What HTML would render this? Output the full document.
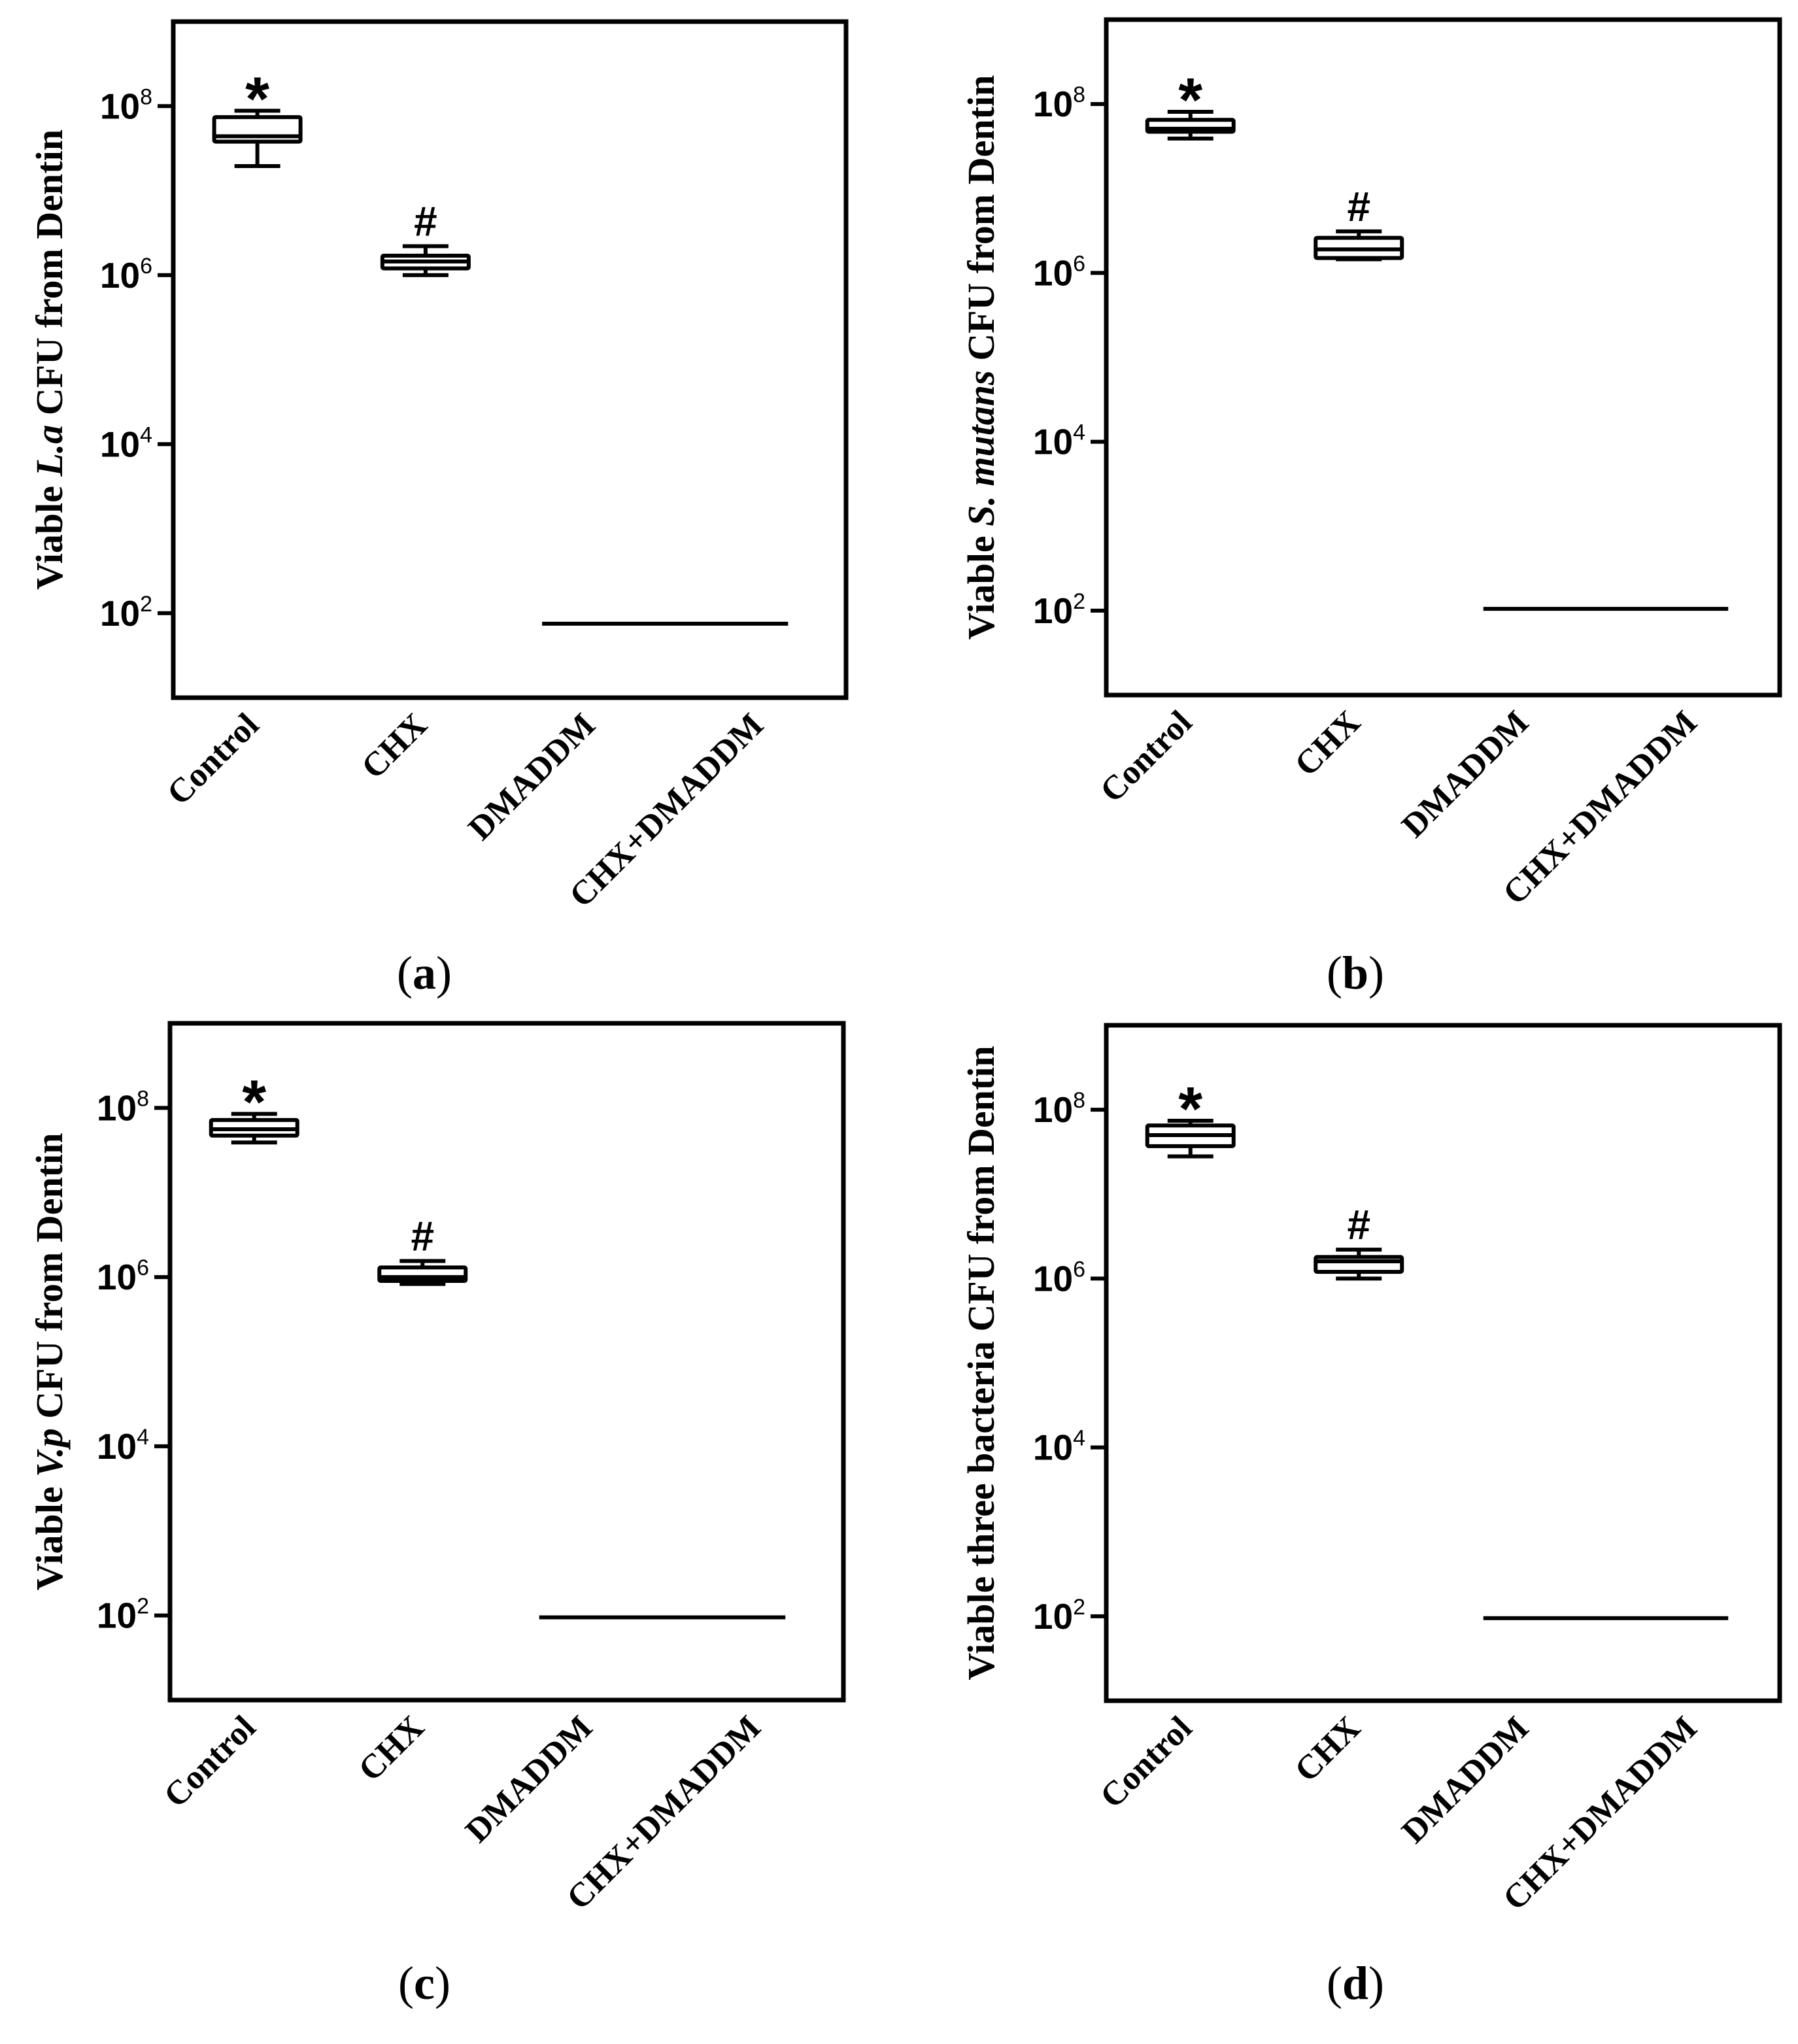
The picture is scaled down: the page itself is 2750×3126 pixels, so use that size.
<!DOCTYPE html>
<html><head><meta charset="utf-8"><style>
html,body{margin:0;padding:0;background:#fff;}
svg{display:block;}
</style></head><body>
<svg id="fig" xmlns="http://www.w3.org/2000/svg" width="2750" height="3126" viewBox="0 0 2750 3126">
<rect x="0" y="0" width="2750" height="3126" fill="#fff"/>
</svg>
<script>
// ---- data ----
const categories = ["Control", "CHX", "DMADDM", "CHX+DMADDM"];
const tickExponents = [2, 4, 6, 8];
// box stats in CFU: [min, q1, median, q3, max] for Control and CHX
const aControl = [1.95e7, 3.8e7, 4.4e7, 7.4e7, 8.8e7];
const aCHX = [1.0e6, 1.2e6, 1.45e6, 1.7e6, 2.2e6];
const bControl = [3.9e7, 4.7e7, 5.1e7, 6.5e7, 8.1e7];
const bCHX = [1.45e6, 1.5e6, 1.9e6, 2.6e6, 3.1e6];
const cControl = [3.9e7, 4.7e7, 5.6e7, 7.2e7, 8.5e7];
const cCHX = [0.83e6, 0.9e6, 1.0e6, 1.3e6, 1.55e6];
const dControl = [2.8e7, 3.7e7, 5.0e7, 6.5e7, 7.4e7];
const dCHX = [1.0e6, 1.2e6, 1.6e6, 1.8e6, 2.2e6];
// DMADDM & CHX+DMADDM groups (detection limit line), CFU
const aTreated = 75;
const bTreated = 105;
const cTreated = 95;
const dTreated = 95;
const yTitles = [
  ["Viable ", "L.a", " CFU from Dentin"],
  ["Viable ", "S. mutans", " CFU from Dentin"],
  ["Viable ", "V.p", " CFU from Dentin"],
  ["Viable three bacteria CFU from Dentin", "", ""]
];
const captions = ["a", "b", "c", "d"];

// ---- layout ----
const NS = "http://www.w3.org/2000/svg";
const svg = document.getElementById("fig");
const panels = [
  {id:"a", L:265, T:33, R:1294, B:1067, boxes:[aControl,aCHX], treated:aTreated, ls:-79, le:40, titleX:75, capX:649, capY:1512},
  {id:"b", L:1692, T:30, R:2722, B:1063, boxes:[bControl,bCHX], treated:bTreated, ls:-67, le:50, titleX:1500, capX:2073, capY:1512},
  {id:"c", L:260, T:1565, R:1290, B:2600, boxes:[cControl,cCHX], treated:cTreated, ls:-79, le:40, titleX:75, capX:649, capY:3057},
  {id:"d", L:1692, T:1568, R:2722, B:2601, boxes:[dControl,dCHX], treated:dTreated, ls:-67, le:50, titleX:1500, capX:2073, capY:3057}
];
function mk(tag, attrs, parent){
  const e = document.createElementNS(NS, tag);
  for (const k in attrs) e.setAttribute(k, attrs[k]);
  (parent||svg).appendChild(e);
  return e;
}
panels.forEach((p, pi) => {
  const g = mk("g", {});
  
  
  const yMinLog = 1, yMaxLog = 9;
  const y = v => p.B - (Math.log10(v) - yMinLog) / (yMaxLog - yMinLog) * (p.B - p.T);
  const band = (p.R - p.L) / categories.length;
  const x = i => p.L + band * (i + 0.5);

  const frame = mk("rect", {x:p.L, y:p.T, width:p.R-p.L, height:p.B-p.T, fill:"none", stroke:"#000", "stroke-width":7}, g);
  
  

  tickExponents.forEach(e => {
    const ty = y(Math.pow(10, e));
    const t = mk("line", {x1:p.L-24, x2:p.L, y1:ty, y2:ty, stroke:"#000", "stroke-width":6}, g);
    
    
    const lab = mk("text", {x:p.L-32, y:ty+19, "text-anchor":"end", "font-family":"Liberation Sans, Arial, sans-serif", "font-weight":"bold", "font-size":55, fill:"#000"}, g);
    
    
    const t1 = mk("tspan", {}, lab); t1.textContent = "10";
    const t2 = mk("tspan", {dy:-22, "font-size":34, "font-weight":"normal"}, lab); t2.textContent = String(e);
  });

  // y title
  const cy = (p.T + p.B) / 2;
  const yt = mk("text", {x:p.titleX, y:cy, "text-anchor":"middle", "dominant-baseline":"central", "font-family":"Liberation Serif, Times New Roman, serif", "font-weight":"bold", "font-size":58, fill:"#000", transform:`rotate(-90 ${p.titleX} ${cy})`}, g);
  
  
  const parts = yTitles[pi];
  const s1 = mk("tspan", {}, yt); s1.textContent = parts[0];
  if (parts[1]) {
    const s2 = mk("tspan", {"font-style":"italic"}, yt); s2.textContent = parts[1];
    const s3 = mk("tspan", {}, yt); s3.textContent = parts[2];
  }

  // x labels
  categories.forEach((c, i) => {
    const ax = x(i) + 5, ay = p.B + 45;
    const xl = mk("text", {x:ax, y:ay, "text-anchor":"end", "font-family":"Liberation Serif, Times New Roman, serif", "font-weight":"bold", "font-size":52, fill:"#000", transform:`rotate(-45 ${ax} ${ay})`}, g);
    
    
    xl.textContent = c;
  });

  // boxes
  p.boxes.forEach((s, i) => {
    const cx = x(i), bw = 132, cw = 70;
    const bg = mk("g", {stroke:"#000", "stroke-width":6, fill:"none"}, g);
    
    
    mk("line", {x1:cx, x2:cx, y1:y(s[4]), y2:y(s[3])}, bg);
    mk("line", {x1:cx, x2:cx, y1:y(s[1]), y2:y(s[0])}, bg);
    mk("line", {x1:cx-cw/2, x2:cx+cw/2, y1:y(s[4]), y2:y(s[4])}, bg);
    mk("line", {x1:cx-cw/2, x2:cx+cw/2, y1:y(s[0]), y2:y(s[0])}, bg);
    mk("rect", {x:cx-bw/2, y:y(s[3]), width:bw, height:Math.max(2, y(s[1])-y(s[3])), fill:"#fff", rx:2}, bg);
    mk("line", {x1:cx-bw/2, x2:cx+bw/2, y1:y(s[2]), y2:y(s[2])}, bg);
    const sym = i === 0 ? "*" : "#";
    const m = mk("text", {x:cx, y: i === 0 ? y(s[4]) + 14 : y(s[4]) - 16, "text-anchor":"middle", "font-family":"Liberation Sans, Arial, sans-serif", "font-weight":"bold", "font-size": i === 0 ? 95 : 64, fill:"#000"}, g);
    
    
    m.textContent = sym;
  });

  // treated groups line
  const ly = y(p.treated);
  const tl = mk("line", {x1:x(2)+p.ls, x2:x(3)+p.le, y1:ly, y2:ly, stroke:"#000", "stroke-width":6}, g);
  
  

  // caption
  const cap = mk("text", {x:p.capX, y:p.capY, "text-anchor":"middle", "font-family":"Liberation Serif, Times New Roman, serif", "font-size":72, fill:"#000"}, g);
  
  
  const c1 = mk("tspan", {}, cap); c1.textContent = "(";
  const c2 = mk("tspan", {"font-weight":"bold"}, cap); c2.textContent = captions[pi];
  const c3 = mk("tspan", {}, cap); c3.textContent = ")";
});
</script>
</body></html>
